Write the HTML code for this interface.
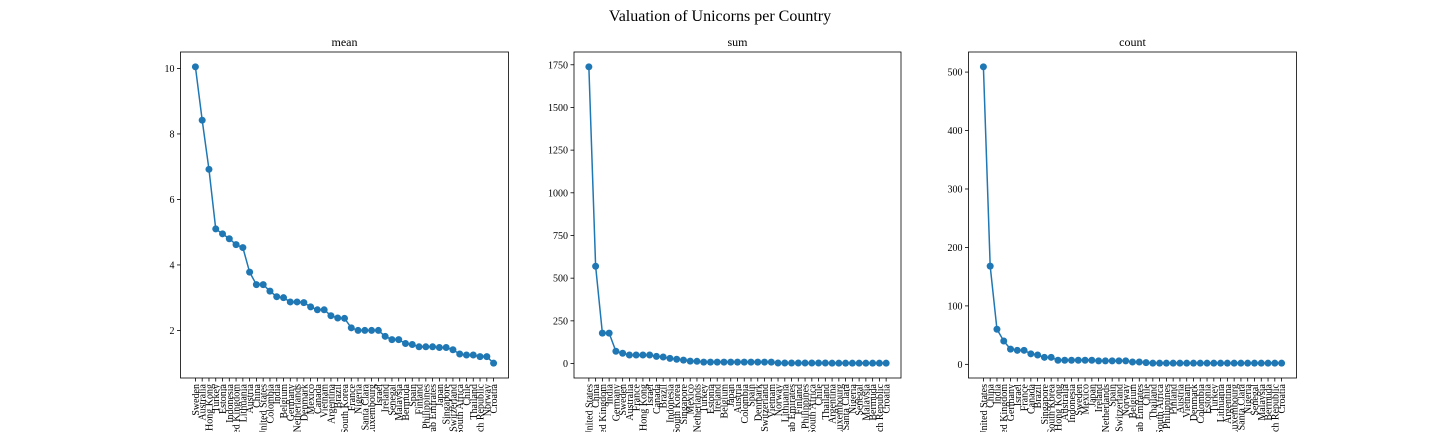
<!DOCTYPE html>
<html><head><meta charset="utf-8"><style>
html,body{margin:0;background:#fff;width:1440px;height:432px;overflow:hidden}
svg{display:block;font-family:"Liberation Serif",serif;overflow:hidden}
</style></head><body>
<svg id="chart" width="1440" height="432" viewBox="0 0 1440 432">
<defs><clipPath id="frameclip"><rect x="0" y="0" width="1440" height="432"/></clipPath></defs>
<text x="720" y="21" font-size="16" text-anchor="middle">Valuation of Unicorns per Country</text>
</svg>
<script>
const meanCountries=["Sweden","Australia","Hong Kong","Turkey","Estonia","Indonesia","United Kingdom","Lithuania","Austria","China","United States","Colombia","India","Belgium","Germany","Netherlands","Denmark","Mexico","Canada","Vietnam","Argentina","Brazil","South Korea","France","Nigeria","Santa Clara","Luxembourg","Israel","Ireland","Senegal","Malaysia","Bermuda","Spain","Finland","Philippines","United Arab Emirates","Japan","Singapore","Switzerland","South Africa","Chile","Thailand","Czech Republic","Norway","Croatia"];
const meanValues=[10.05,8.42,6.92,5.1,4.95,4.8,4.62,4.53,3.78,3.4,3.4,3.2,3.03,3.0,2.87,2.87,2.85,2.72,2.63,2.63,2.45,2.38,2.37,2.08,2.0,2.0,2.0,2.0,1.82,1.72,1.72,1.6,1.57,1.5,1.5,1.5,1.48,1.48,1.41,1.28,1.25,1.25,1.2,1.2,1.0];
const meanTicks=[2,4,6,8,10];
const sumCountries=["United States","China","United Kingdom","India","Germany","Sweden","Australia","France","Hong Kong","Israel","Canada","Brazil","Indonesia","South Korea","Singapore","Mexico","Netherlands","Turkey","Estonia","Ireland","Belgium","Japan","Austria","Colombia","Spain","Denmark","Switzerland","Vietnam","Norway","Lithuania","United Arab Emirates","Finland","Philippines","South Africa","Chile","Thailand","Argentina","Luxembourg","Santa Clara","Nigeria","Senegal","Malaysia","Bermuda","Czech Republic","Croatia"];
const sumValues=[1738,570,178,178,72,60,50,50,50,50,42,38,30,25,20,14,13,8,8,8,8,8,8,8,8,8,8,8,3,3,3,3,3,3,3,3,2,2,2,2,2,2,2,2,2];
const sumTicks=[0,250,500,750,1000,1250,1500,1750];
const countCountries=["United States","China","India","United Kingdom","Germany","Israel","France","Canada","Brazil","Singapore","South Korea","Hong Kong","Australia","Indonesia","Sweden","Mexico","Japan","Ireland","Netherlands","Spain","Switzerland","Norway","Belgium","United Arab Emirates","Chile","Thailand","South Africa","Philippines","Finland","Austria","Vietnam","Denmark","Colombia","Estonia","Turkey","Lithuania","Argentina","Luxembourg","Santa Clara","Nigeria","Senegal","Malaysia","Bermuda","Czech Republic","Croatia"];
const countValues=[509,168,60,40,26,24,24,18,16,12,12,7,7,7,7,7,7,6,6,6,6,6,4,4,3,2,2,2,2,2,2,2,2,2,2,2,2,2,2,2,2,2,2,2,2];
const countTicks=[0,100,200,300,400,500];

const NS="http://www.w3.org/2000/svg";
const svg=document.getElementById('chart');
function mk(tag,attrs,parent){const e=document.createElementNS(NS,tag);for(const k in attrs)e.setAttribute(k,attrs[k]);(parent||svg).appendChild(e);return e;}

function panel(key,title,cats,vals,ticks,L,R){
  const T=52,B=378;
  const g=mk('g',{});
  
  
  const n=cats.length;
  const xpad=(n-1)*0.05;
  const xs=i=>L+(i+xpad)/((n-1)+2*xpad)*(R-L);
  const mn=Math.min(...vals),mx=Math.max(...vals),yp=(mx-mn)*0.05;
  const y0=mn-yp,y1=mx+yp;
  const ys=v=>B-(v-y0)/(y1-y0)*(B-T);
  const t=mk('text',{x:(L+R)/2,y:46,'font-size':12,'text-anchor':'middle'},g);
  t.textContent=title;
  
  
  ticks.forEach(v=>{
    const y=ys(v);
    const tk=mk('line',{x1:L-3.5,x2:L,y1:y,y2:y,stroke:'#000','stroke-width':0.8},g);
    
    
    const lb=mk('text',{x:L-6,y:y+3.5,'font-size':10,'text-anchor':'end'},g);
    lb.textContent=v;
    
    
  });
  const lg=mk('g',{'clip-path':'url(#frameclip)'},g);
  
  
  cats.forEach((c,i)=>{
    const x=xs(i);
    const tk=mk('line',{x1:x,x2:x,y1:B,y2:B+3.5,stroke:'#000','stroke-width':0.8},g);
    
    
    const lb=mk('text',{x:0,y:0,'font-size':10,'text-anchor':'end',transform:`translate(${x+3.5},${B+6}) rotate(-90)`},lg);
    lb.textContent=c;
    
    
  });
  const pts=vals.map((v,i)=>xs(i).toFixed(2)+','+ys(v).toFixed(2)).join(' ');
  const pl=mk('polyline',{points:pts,fill:'none',stroke:'#1f77b4','stroke-width':1.5},g);
  
  
  vals.forEach((v,i)=>{
    const c=mk('circle',{cx:xs(i),cy:ys(v),r:3.5,fill:'#1f77b4'},g);
    
    
  });
  const fr=mk('rect',{x:L,y:T,width:R-L,height:B-T,fill:'none',stroke:'#000','stroke-width':0.8},g);
  
  
}
panel('mean','mean',meanCountries,meanValues,meanTicks,180.5,508.5);
panel('sum','sum',sumCountries,sumValues,sumTicks,574,901);
panel('count','count',countCountries,countValues,countTicks,968.5,1296.5);
</script>
</body></html>
